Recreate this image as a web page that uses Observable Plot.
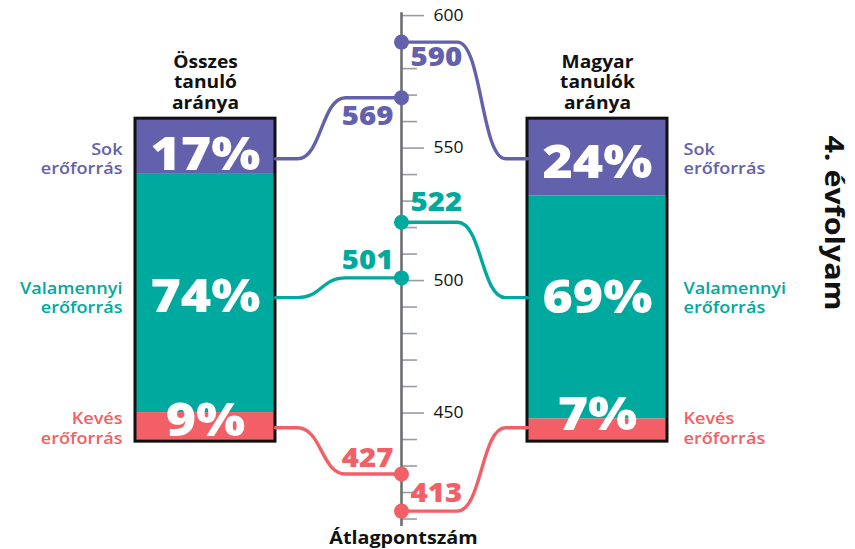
<!DOCTYPE html>
<html><head><meta charset="utf-8">
<script src="https://cdn.jsdelivr.net/npm/d3@7"></script>
<script src="https://cdn.jsdelivr.net/npm/@observablehq/plot@0.6"></script>
<style>body{margin:0;background:#fff;} svg{display:block}</style>
</head><body><div id="chart"></div>
<script>
// ---- data ----
const categories = ["Sok erőforrás", "Valamennyi erőforrás", "Kevés erőforrás"];
const catLabels = ["Sok\nerőforrás", "Valamennyi\nerőforrás", "Kevés\nerőforrás"];
const groupLabels = ["Összes\ntanuló\naránya", "Magyar\ntanulók\naránya"];
const sharesAll = [17, 74, 9];
const sharesHu = [24, 69, 7];
const scoresAll = [569, 501, 427];
const scoresHu = [590, 522, 413];
const axisTicks = [450, 500, 550, 600];
const minorTicks = [410, 420, 430, 440, 460, 470, 480, 490, 510, 520, 530, 540, 560, 570, 580, 590];
const colors = ["#6461ac", "#00a99d", "#f25f66"];
const axisTitle = "Átlagpontszám";
const sideTitle = "4. évfolyam";

// ---- layout ----
const W = 855, H = 549;
const xDomain = [-401, 454];          // x units: pixels from the score axis
const yDomain = [398.5, 605.7];       // score scale
const k = H / (yDomain[1] - yDomain[0]); // pixels per score point
const barCenter = 196, barHalf = 70;
const barTop = 561.1, barSpan = 121.9; // score units covered by 100 %
const rowFrac = [0.124, 0.554, 0.957]; // connector rows on the bars
const sNear = 22, sFar = 70;           // S-curve start/end from bar edge
const pctDy = [[-3, 5], [0, 1], [-7, -13]]; // px offsets of % labels (left, right)
const scoreDy = [[19, 16], [-17, -20], [-15, -17]]; // px offsets of score labels
const font = "Open Sans";
const stretch = 1.13;

const sides = [
  {sign: -1, shares: sharesAll, scores: scoresAll, head: groupLabels[0]},
  {sign: 1, shares: sharesHu, scores: scoresHu, head: groupLabels[1]}
];
const segs = [], links = [], dots = [], pcts = [], cats = [];
sides.forEach((s, si) => {
  let cum = 0;
  const inner = s.sign * (barCenter - barHalf);
  const outer = s.sign * (barCenter + barHalf);
  s.shares.forEach((p, ci) => {
    segs.push({cat: categories[ci], x1: inner, x2: outer,
      y1: barTop - cum / 100 * barSpan, y2: barTop - (cum + p) / 100 * barSpan});
    cum += p;
    const row = barTop - rowFrac[ci] * barSpan;
    const id = si + "-" + ci;
    links.push({id, cat: categories[ci], x: inner, y: row});
    links.push({id, cat: categories[ci], x: inner - s.sign * sNear, y: row});
    links.push({id, cat: categories[ci], x: inner - s.sign * sFar, y: s.scores[ci]});
    links.push({id, cat: categories[ci], x: 0, y: s.scores[ci]});
    dots.push({cat: categories[ci], score: s.scores[ci], sign: s.sign, ly: s.scores[ci] - scoreDy[ci][si] / k});
    pcts.push({cat: categories[ci], x: s.sign * barCenter, y: row - pctDy[ci][si] / k, text: p + "%"});
    cats.push({cat: categories[ci], x: outer, y: row, text: catLabels[ci], sign: s.sign});
  });
});

const chart = Plot.plot({
  width: W, height: H,
  marginTop: 0, marginRight: 0, marginBottom: 0, marginLeft: 0,
  x: {domain: xDomain, axis: null},
  y: {domain: yDomain, axis: null},
  color: {domain: categories, range: colors},
  style: {fontFamily: font, background: "#fff"},
  marks: [
    // bars
    Plot.rect(segs, {x1: "x1", x2: "x2", y1: "y1", y2: "y2", fill: "cat"}),
    Plot.rect(sides, {x1: d => d.sign * (barCenter - barHalf), x2: d => d.sign * (barCenter + barHalf),
      y1: barTop, y2: barTop - barSpan, fill: "none", stroke: "#111", strokeWidth: 3}),
    // score axis
    Plot.ruleY(minorTicks, {x1: 0, x2: 16, stroke: "#9a9c9f", strokeWidth: 1.6}),
    Plot.ruleY(axisTicks, {x1: 0, x2: 23, stroke: "#9a9c9f", strokeWidth: 1.6}),
    Plot.ruleX([0], {y1: 601.1, y2: 407.2, stroke: "#6d6e71", strokeWidth: 2.6}),
    Plot.text(axisTicks, {x: 0, y: d => d, dx: 32, textAnchor: "start", fontSize: 15.5, fill: "#111"}),
    // connectors
    Plot.line(links, {x: "x", y: "y", z: "id", stroke: "cat", strokeWidth: 3.4, curve: "bump-x"}),
    Plot.dot(dots, {x: 0, y: "score", fill: "cat", r: 7.5}),
    Plot.text(dots.filter(d => d.sign < 0), {x: 0, y: "ly", text: d => String(d.score), fill: "cat",
      dx: -8, textAnchor: "end", fontSize: 26, fontWeight: 800}),
    Plot.text(dots.filter(d => d.sign > 0), {x: 0, y: "ly", text: d => String(d.score), fill: "cat",
      dx: 9, textAnchor: "start", fontSize: 26, fontWeight: 800}),
    // percentages
    Plot.text(pcts, {x: "x", y: "y", text: "text", fill: "white", fontSize: 46, fontWeight: 800,
      ariaLabel: "pct"}),
    // category labels
    Plot.text(cats.filter(d => d.sign < 0), {x: "x", y: "y", text: "text", fill: "cat", dx: -13,
      textAnchor: "end", fontSize: 16, fontWeight: 600, lineHeight: 1.2}),
    Plot.text(cats.filter(d => d.sign > 0), {x: "x", y: "y", text: "text", fill: "cat", dx: 16,
      textAnchor: "start", fontSize: 16, fontWeight: 600, lineHeight: 1.2}),
    // headers
    Plot.text(sides, {x: d => d.sign * barCenter, y: barTop, text: "head", dy: -10, lineAnchor: "bottom",
      fontSize: 17, fontWeight: 700, lineHeight: 1.2, fill: "#111"}),
    Plot.text([sideTitle], {frameAnchor: "right", dx: -22, dy: -52, rotate: 90, textAnchor: "middle",
      fontSize: 27, fontWeight: 700, fill: "#111"}),
    Plot.text([axisTitle], {x: 0, frameAnchor: "bottom", lineAnchor: "bottom", dx: 2, dy: -6,
      fontSize: 17.5, fontWeight: 700, fill: "#111"})
  ]
});

// percentage labels: smaller raised %
d3.select(chart).selectAll('g[aria-label="pct"] text').each(function() {
  const t = this.textContent;
  this.textContent = t.slice(0, -1);
  const ts = document.createElementNS("http://www.w3.org/2000/svg", "tspan");
  ts.textContent = "%";
  ts.setAttribute("font-size", 32);
  ts.setAttribute("dy", -7);
  ts.setAttribute("dx", 3);
  this.appendChild(ts);
});
// widen lettering to match the reference face
d3.select(chart).selectAll("text").each(function() {
  const tr = this.getAttribute("transform");
  if (tr) this.setAttribute("transform", tr + ` scale(${stretch},1)`);
});
document.getElementById("chart").appendChild(chart);
</script>
</body></html>
